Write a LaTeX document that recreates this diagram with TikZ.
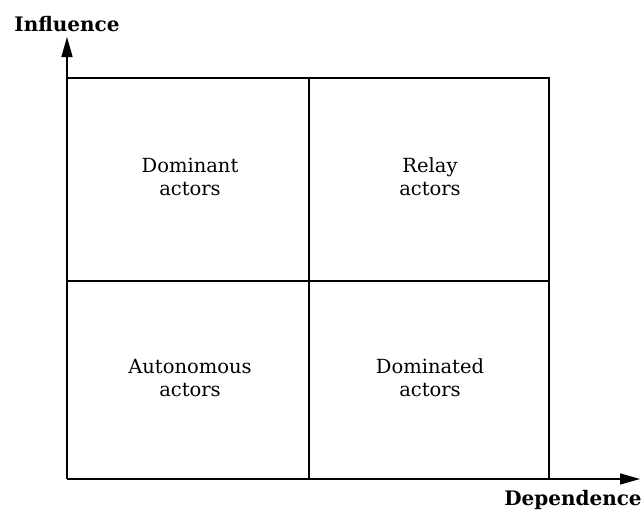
\documentclass[tikz,border=0pt]{standalone}
\usepackage{fontspec}
\setmainfont{DejaVu Serif}
\usetikzlibrary{arrows.meta}
\begin{document}
\begin{tikzpicture}[x=1pt,y=-1pt,
  cell/.style={font=\fontsize{19.5}{23}\selectfont, align=center},
  axislabel/.style={font=\bfseries\fontsize{20}{22}\selectfont},
  axis/.style={line width=1.4pt, -{Triangle[length=20pt,width=11pt]}},
  grid/.style={line width=1.2pt}]
\useasboundingbox (0,0) rectangle (643,514);
\coordinate (O) at (67,479);
\coordinate (ytip) at (67,37);
\coordinate (xtip) at (640,479);
\draw[axis] (O) -- (ytip);
\draw[axis] (O) -- (xtip);
\coordinate (tl) at (67,78);
\coordinate (tr) at (549,78);
\coordinate (br) at (549,479);
\coordinate (tm) at (309,78);
\coordinate (bm) at (309,479);
\coordinate (ml) at (67,281);
\coordinate (mr) at (549,281);
\draw[grid] (tl) -- (tr) -- (br);
\draw[grid] (tm) -- (bm);
\draw[grid] (ml) -- (mr);
\node[axislabel] (yl) at (67,24) {Influence};
\node[axislabel] (xl) at (573,500) {Dependence};
\node[cell] (c1) at (190,177) {Dominant\\actors};
\node[cell] (c2) at (430,177) {Relay\\actors};
\node[cell] (c3) at (190,378) {Autonomous\\actors};
\node[cell] (c4) at (430,378) {Dominated\\actors};
\end{tikzpicture}
\end{document}
